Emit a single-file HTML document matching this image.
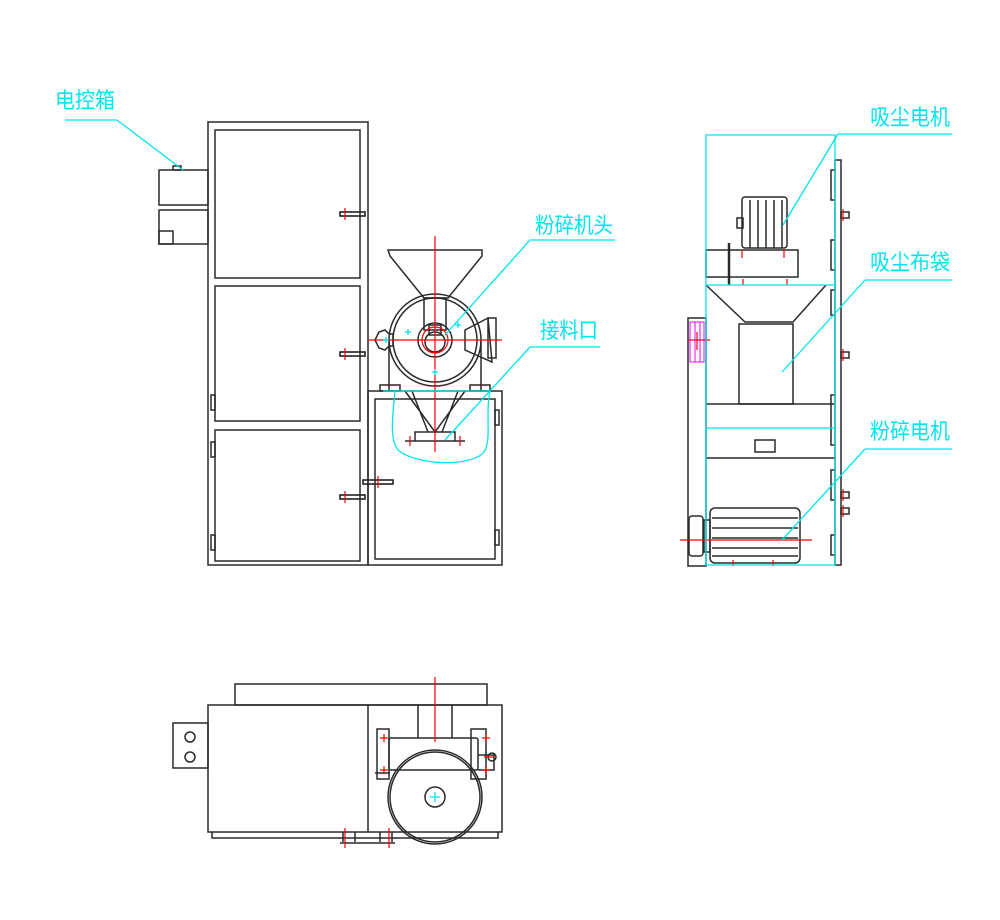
<!DOCTYPE html>
<html><head><meta charset="utf-8"><style>
html,body{margin:0;padding:0;background:#fff}
svg{display:block}
text{font-family:"Liberation Sans","Noto Sans CJK SC",sans-serif;fill:#00e5ee;font-size:22px}
</style></head><body>
<svg width="1000" height="920" viewBox="0 0 1000 920" xmlns="http://www.w3.org/2000/svg">
<g fill="none" stroke="#2a2a2a" stroke-width="1.5">
<!-- FRONT VIEW -->
<rect x="208" y="122" width="160" height="443"/>
<rect x="215" y="130" width="145" height="148"/>
<rect x="215" y="286" width="145" height="135"/>
<rect x="215" y="430" width="145" height="131"/>
<rect x="368" y="391" width="134" height="174"/>
<rect x="375" y="399" width="120" height="160"/>
<rect x="159" y="170" width="49" height="35"/>
<rect x="159" y="210" width="49" height="34"/>
<rect x="159" y="231" width="14" height="13"/>
<rect x="173" y="166" width="8" height="4"/>
<rect x="211" y="395" width="4" height="15"/><rect x="211" y="442" width="4" height="15"/><rect x="211" y="535" width="4" height="15"/>
<rect x="495" y="410" width="4" height="15"/><rect x="495" y="530" width="4" height="15"/>
<g stroke="#222" stroke-width="1.6">
<rect x="340" y="212" width="25" height="4"/><rect x="340" y="352" width="25" height="4"/><rect x="340" y="495" width="25" height="4"/><rect x="363" y="480" width="30" height="4"/>
</g>
<path d="M388 250 H482 V256 L448 298 H424 L390 256 Z"/>
<circle cx="435" cy="340" r="46"/><circle cx="435" cy="340" r="42"/>
<circle cx="435" cy="340" r="17"/><circle cx="435" cy="342" r="10"/>
<rect x="424" y="298" width="22" height="32"/><rect x="429" y="325" width="12" height="10"/>
<path d="M389 340 V391 M481 340 V391"/>
<path d="M465 330 L488 318 L492 362 L465 350 Z"/>
<rect x="488" y="318" width="8" height="40"/>
<path d="M375 340 l4 -8 6 -2 4 4 4 0 0 12 -4 0 -4 4 -6 -2 -4 -8z"/>
<rect x="380" y="385" width="20" height="6"/><rect x="470" y="385" width="20" height="6"/>
<path d="M405 391 L435 432 L465 391 M412 391 L428 432 M458 391 L442 432 M415 432 H455 V441 H415 Z M405 441 H465"/>
<!-- SIDE VIEW -->
<rect x="742" y="197" width="45" height="51" rx="3"/>
<path d="M750 200 V248 M758 200 V248 M766 200 V248 M774 200 V248 M782 200 V248"/>
<rect x="737" y="218" width="6" height="10"/>
<rect x="706" y="250" width="92" height="27"/>
<path d="M706 285 L745 322 H793 L826 285"/>
<rect x="739" y="324" width="54" height="80"/>
<path d="M706 404 H835 M706 458 H835"/>
<path d="M755 440 h20 v12 h-20z"/>
<rect x="710" y="508" width="90" height="55" rx="5"/>
<path d="M712 518 H798 M712 528 H798 M712 538 H798 M712 548 H798 M712 556 H798"/>
<rect x="689" y="516" width="14" height="40" rx="3"/>
<rect x="704" y="520" width="6" height="32"/>
<rect x="688" y="318" width="18" height="248"/>
<rect x="835" y="160" width="6" height="405"/>
<path d="M835 170 h-4 v30 h4 M835 240 h-4 v30 h4 M835 290 h-4 v25 h4 M835 395 h-4 v50 h4 M835 470 h-4 v30 h4 M835 535 h-4 v20 h4"/>
<rect x="841" y="212" width="8" height="6"/><rect x="841" y="352" width="8" height="6"/><rect x="841" y="492" width="8" height="6"/><rect x="841" y="508" width="8" height="6"/>
<path d="M729 243 V285" stroke-width="2.5"/>
<!-- TOP VIEW -->
<rect x="235" y="684" width="252" height="21"/>
<rect x="208" y="705" width="294" height="127"/>
<path d="M368 705 V832 M212 832 V838 H498 V832"/>
<rect x="173" y="723" width="35" height="45"/>
<circle cx="190" cy="737" r="5"/><circle cx="190" cy="757" r="5"/>
<rect x="377" y="729" width="12" height="50"/><rect x="471" y="729" width="15" height="50"/>
<path d="M418 705 V738 M452 705 V738"/>
<rect x="389" y="738" width="89" height="32" rx="2"/>
<circle cx="435" cy="797" r="47"/><circle cx="435" cy="797" r="45"/>
<circle cx="435" cy="797" r="10"/>
<path d="M375 773 H390 M478 755 H494 V770 H478"/><circle cx="492" cy="757" r="4"/>
<path d="M340 843 H395 M343 832 v10 M355 832 v10 M380 832 v10 M392 832 v10"/>
</g>
<g stroke="#f00" stroke-width="1.2" fill="none">
<path d="M435 236 V452 M368 340 H502"/>
<circle cx="435" cy="340" r="13"/>
<path d="M410 436 v10 M460 436 v10"/>
<path d="M345 208 v12 M345 348 v12 M345 491 v12 M378 476 v12"/>
<path d="M435 677 V742 M345 828 v20 M389 828 v20 M380 738 h8 M384 734 v8 M482 738 h8 M486 734 v8 M482 770 h8 M486 766 v8 M380 770 h8 M384 766 v8 M484 757 h10"/>
<path d="M680 540 H812 M688 340 H710 M697 332 V350"/>
<path d="M843 209 v12 M843 349 v12 M843 489 v12 M843 505 v12 M733 560 v6 M773 560 v6 M743 279 v6 M787 279 v6 M742 250 v8 M784 250 v8"/>
</g>
<g stroke="#e0e" stroke-width="1" fill="none"><rect x="690" y="322" width="14" height="40"/><path d="M695 322 v40 M700 322 v40"/></g>
<g stroke="#00e5ee" stroke-width="1.3" fill="none">
<path d="M706 135 H835 V565 H706 Z M706 285 H835 M706 428 H835"/>
<path d="M65 120 H117 L183 170"/>
<path d="M530 240 H615 M530 240 L445 335"/>
<path d="M530 347 H600 M530 347 L445 440"/>
<path d="M838 134 H952 M838 134 L783 225"/>
<path d="M865 280 H952 M865 280 L782 372"/>
<path d="M865 449 H952 M865 449 L782 540"/>
<path d="M383 391 H490 M395 391 C392 420 390 440 398 450 C415 465 470 468 484 452 C492 440 485 415 490 391"/>
<path d="M430 797 h10 M435 792 v10"/>
<path d="M455 325 l6 0 M458 322 v6 M405 332 h6 M408 329 v6 M432 372 h6 M435 369 v6 M383 340 h6 M386 337 v6"/>
</g>
<text x="55" y="108" textLength="60" lengthAdjust="spacingAndGlyphs">电控箱</text>
<text x="535" y="233" textLength="78" lengthAdjust="spacingAndGlyphs">粉碎机头</text>
<text x="540" y="338" textLength="58" lengthAdjust="spacingAndGlyphs">接料口</text>
<text x="870" y="125" textLength="80" lengthAdjust="spacingAndGlyphs">吸尘电机</text>
<text x="870" y="270" textLength="80" lengthAdjust="spacingAndGlyphs">吸尘布袋</text>
<text x="870" y="439" textLength="80" lengthAdjust="spacingAndGlyphs">粉碎电机</text>
</svg>
</body></html>
